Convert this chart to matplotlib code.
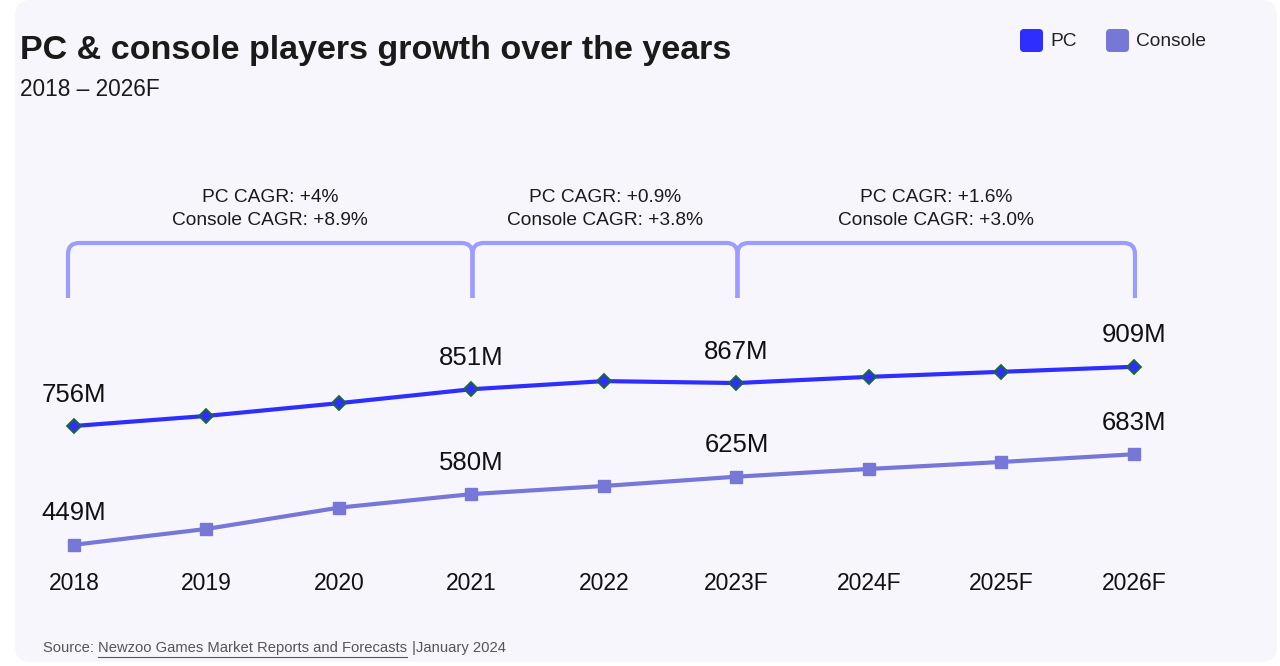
import matplotlib.pyplot as plt
from matplotlib.patches import FancyBboxPatch, PathPatch
from matplotlib.path import Path

plt.rcParams['font.family'] = ['Liberation Sans', 'DejaVu Sans']

years = ['2018', '2019', '2020', '2021', '2022', '2023F', '2024F', '2025F', '2026F']
pc = [756, 782, 815, 851, 872, 867, 883, 896, 909]
console = [449, 490, 545, 580, 601, 625, 645, 663, 683]
labelled = [0, 3, 5, 8]
cagr_spans = [(0, 3), (3, 5), (5, 8)]
cagr_pc = ['+4%', '+0.9%', '+1.6%']
cagr_console = ['+8.9%', '+3.8%', '+3.0%']

pc_color = '#2e2eff'
con_color = '#7777d8'
brk_color = '#9c9cff'
bg = '#f7f6fd'

fig = plt.figure(figsize=(12.8, 6.66), dpi=100)
fig.patch.set_facecolor('white')

# overlay in pixel coords for background panel, brackets and text
ov = fig.add_axes([0, 0, 1, 1])
ov.set_xlim(0, 1280)
ov.set_ylim(666, 0)
ov.axis('off')
ov.add_patch(FancyBboxPatch((15, 0), 1262, 662, boxstyle='round,pad=0,rounding_size=16',
                            fc=bg, ec='none'))

ax = fig.add_axes([0, 0, 1, 1])
ax.patch.set_alpha(0)
ax.axis('off')
ax.set_xlim(-0.5585, 9.102)
ax.set_ylim(135.8, 1856.8)

x = list(range(len(years)))
ax.plot(x, pc, color=pc_color, lw=3, marker='D', ms=7, mfc=pc_color, mec='#1b6b2e', mew=1.3, zorder=3)
ax.plot(x, console, color=con_color, lw=3, marker='s', ms=9, mfc=con_color, mec=con_color, zorder=3)

for i in labelled:
    ax.annotate(f'{pc[i]}M', (i, pc[i]), xytext=(0, 14), textcoords='offset points',
                ha='center', va='bottom', fontsize=18.5, color='#111111')
    ax.annotate(f'{console[i]}M', (i, console[i]), xytext=(0, 14), textcoords='offset points',
                ha='center', va='bottom', fontsize=18.5, color='#111111')

fig.canvas.draw()
for i, yr in enumerate(years):
    ov.text(ax.transData.transform((i, 0))[0], 584, yr, ha='center', va='center',
            fontsize=16.5, color='#111111')

# brackets
top, bot, r = 243, 298, 11
for (a, b), p1, p2 in zip(cagr_spans, cagr_pc, cagr_console):
    x0 = ax.transData.transform((a, 0))[0] - (6 if a == 0 else -1)
    x1 = ax.transData.transform((b, 0))[0] + 1
    verts = [(x0, bot), (x0, top + r), (x0, top), (x0 + r, top), (x1 - r, top),
             (x1, top), (x1, top + r), (x1, bot)]
    codes = [Path.MOVETO, Path.LINETO, Path.CURVE3, Path.CURVE3, Path.LINETO,
             Path.CURVE3, Path.CURVE3, Path.LINETO]
    ov.add_patch(PathPatch(Path(verts, codes), fc='none', ec=brk_color, lw=3,
                           capstyle='butt', joinstyle='round'))
    ov.text((x0 + x1) / 2, 209, f'PC CAGR: {p1}\nConsole CAGR: {p2}', ha='center', va='center',
            fontsize=13.8, color='#1a1a1a', linespacing=1.4)

ov.text(20, 51, 'PC & console players growth over the years', fontsize=24.5, fontweight='bold',
        color='#1a1a1a', va='center', ha='left')
ov.text(20, 89, '2018 – 2026F', fontsize=16.3, color='#1a1a1a', va='center', ha='left')

# legend
for lx, col, lab in [(1020, pc_color, 'PC'), (1106, con_color, 'Console')]:
    ov.add_patch(FancyBboxPatch((lx, 29), 23, 23, boxstyle='round,pad=0,rounding_size=4',
                                fc=col, ec='none'))
    ov.text(lx + 30, 42, lab, fontsize=13.8, color='#222222', va='center', ha='left')

# source line
fs = 10.6
t1 = ov.text(43, 648, 'Source: ', fontsize=fs, color='#555555', va='center', ha='left')
fig.canvas.draw()
sx = t1.get_window_extent().x1
t2 = ov.text(sx, 648, 'Newzoo Games Market Reports and Forecasts', fontsize=fs, color='#555555',
             va='center', ha='left')
fig.canvas.draw()
bb2 = t2.get_window_extent()
ov.plot([bb2.x0, bb2.x1], [657, 657], color='#555555', lw=0.8)
ov.text(bb2.x1 + 5, 648, '|January 2024', fontsize=fs, color='#555555', va='center', ha='left')

fig.savefig('out.png', dpi=100, facecolor='white')
